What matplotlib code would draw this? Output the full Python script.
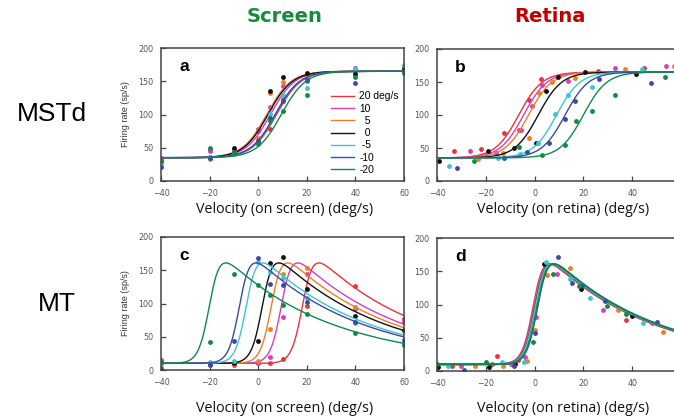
import numpy as np
import matplotlib
matplotlib.use('Agg')
import matplotlib.pyplot as plt

# eye speeds (deg/s) and colours, same order everywhere
speeds = [20, 10, 5, 0, -5, -10, -20]
leg_labels = ['20 deg/s', '10', '  5', '  0', ' -5', '-10', '-20']
colors = ['#e8333f', '#d43fbe', '#f07d26', '#111111', '#3ec3d3', '#3a4aa6', '#11894a']

# ---- panel a: MSTd, screen coordinates
a_x = [-40, -20, -10, 0, 5, 10, 20, 40, 60]
a_y = [
    [35, 46, 47, 75, 78, 123, 155, 165, 171],
    [32, 45, 45, 78, 112, 143, 150, 170, 172],
    [33, 33, 46, 65, 133, 149, 158, 168, 173],
    [30, 36, 50, 60, 135, 157, 163, 161, 168],
    [26, 36, 40, 58, 101, 129, 140, 169, 175],
    [21, 35, 44, 58, 94, 121, 152, 147, 165],
    [30, 50, 42, 55, 90, 105, 130, 157, 163],
]
a_centers = [7.5, 5, 3.5, 4, 7, 7, 9.5]

# ---- panel b: MSTd, retinal coordinates
b_x = [
    [-33, -22, -12.5, -6.5, -2.5, 2.5, 26, 45],
    [-26.5, -16, -5.5, -1, 3, 13.5, 33, 54],
    [-23, -13, -2.5, 2, 7, 16.5, 37, 57],
    [-39, -19, -8.5, 0.5, 4.5, 9.5, 20.5, 41.5],
    [-35, -15, -6, 1.5, 8.5, 13.5, 23.5, 44],
    [-32, -12.5, -3, 6, 12.5, 16.5, 26.5, 47.5],
    [-25, -6.5, 3, 12.5, 17, 23.5, 33, 53.5],
]
b_y = [
    [46, 48, 73, 77, 123, 154, 167, 171],
    [45, 42, 77, 113, 145, 151, 171, 174],
    [33, 43, 65, 134, 150, 156, 169, 175],
    [30, 45, 50, 57, 136, 158, 165, 162],
    [23, 35, 41, 57, 101, 131, 142, 170],
    [20, 35, 44, 57, 94, 121, 154, 148],
    [30, 51, 40, 54, 91, 106, 130, 157],
]
b_centers = [-6.5, -4.5, -2.5, 1.5, 9, 12.5, 20]

# ---- panel c: MT, screen coordinates
c_x = [-40, -20, -10, 0, 5, 10, 20, 40, 60]
c_y = [
    [15, 10, 8, 10, 10, 16, 96, 126, 76],
    [10, 9, 9, 10, 20, 80, 145, 91, 72],
    [11, 9, 9, 14, 62, 144, 154, 95, 58],
    [10, 9, 10, 44, 161, 170, 122, 81, 60],
    [11, 12, 13, 163, 147, 138, 108, 70, 41],
    [3, 7, 44, 169, 130, 128, 103, 72, 45],
    [12, 42, 145, 128, 113, 97, 84, 56, 37],
]
c_shifts = [18.5, 9.8, 5.7, 2.0, -4.6, -7.4, -19.8]

# ---- panel d: MT, retinal coordinates
d_x = [
    [-34, -17.5, -15.5, -7, 0.3, 37.5],
    [-30, -9.5, -4, 0.7, 9, 28, 48],
    [-24.5, -13, -3, 0.3, 5, 14.5, 34, 52.5],
    [-39.5, -18.5, -8, 4, 19, 40],
    [-35.5, -13.5, -4.5, 4.5, 14.5, 22.5, 44.5],
    [-29, -8.5, 0.3, 9.5, 15.5, 19.5, 29, 50],
    [-40, -20, -0.5, 7.5, 18, 29.5, 37.5, 58],
]
d_y = [
    [8, 10, 22, 17, 97, 76],
    [8, 11, 21, 81, 146, 92, 72],
    [8, 8, 15, 62, 145, 155, 91, 59],
    [6, 6, 11, 161, 123, 82],
    [8, 13, 13, 164, 138, 110, 72],
    [1, 8, 57, 171, 132, 129, 105, 73],
    [11, 13, 44, 146, 128, 98, 85, 57],
]
d_shifts = [-0.3, 0.0, 0.3, 0.5, 0.6, 1.5, 1.3]

# fitted-curve shapes
mst_base, mst_top, mst_k = 35, 165, 5.0
mt_base, mt_peak, mt_w, mt_decay = 10, 161, 2.2, 44.0

v = np.linspace(-45, 65, 600)


def mst_curve(x0, k=mst_k):
    return mst_base + (mst_top - mst_base) / (1 + np.exp(-(v - x0) / k))


def mt_curve(x0):
    u = np.linspace(-30, 90, 2000)
    ref = 1 / (1 + np.exp(-u / mt_w)) * np.exp(-u / mt_decay)
    r = 1 / (1 + np.exp(-(v - x0) / mt_w)) * np.exp(-(v - x0) / mt_decay)
    return mt_base + (mt_peak - mt_base) * r / ref.max()


fig = plt.figure(figsize=(6.74, 4.18), dpi=100)

W, H = 674, 418


def make_ax(left, top, right, bottom):
    return fig.add_axes([left / W, 1 - bottom / H, (right - left) / W, (bottom - top) / H])


ax_a = make_ax(161, 48, 404, 181)
ax_b = make_ax(437, 49, 681, 181)
ax_c = make_ax(161, 237, 404, 370)
ax_d = make_ax(437, 238, 681, 371)

for ax, letter in zip([ax_a, ax_b, ax_c, ax_d], 'abcd'):
    ax.set_xlim(-40, 60)
    ax.set_ylim(0, 200)
    ax.set_xticks([-40, -20, 0, 20, 40, 60])
    ax.set_yticks([0, 50, 100, 150, 200])
    ax.tick_params(direction='in', length=3.5, width=0.9, colors='#444444',
                   labelsize=5.8, labelcolor='#555555', pad=5.5)
    for s in ax.spines.values():
        s.set_color('#444444')
        s.set_linewidth(1.1)
    ax.text(0.075, 0.86, letter, transform=ax.transAxes, fontsize=12.5,
            fontweight='bold', family='Liberation Sans', va='center', ha='left')

# right-hand panels run past the picture edge
for ax in [ax_b, ax_d]:
    ax.spines['right'].set_visible(False)
    ax.set_xticks([-40, -20, 0, 20, 40])

for i, col in enumerate(colors):
    ax_a.plot(v, mst_curve(a_centers[i]), color=col, lw=1.0, label=leg_labels[i])
    ax_a.plot(a_x, a_y[i], 'o', color=col, ms=3.5, mec='none')

    ax_b.plot(v, mst_curve(b_centers[i], 4.8), color=col, lw=1.0)
    ax_b.plot(b_x[i], b_y[i], 'o', color=col, ms=3.5, mec='none')

    ax_c.plot(v, mt_curve(c_shifts[i]), color=col, lw=1.0)
    ax_c.plot(c_x, c_y[i], 'o', color=col, ms=3.5, mec='none')

    ax_d.plot(v, mt_curve(d_shifts[i]), color=col, lw=1.2)
    ax_d.plot(d_x[i], d_y[i], 'o', color=col, ms=3.5, mec='none')

leg = ax_a.legend(loc='center left', bbox_to_anchor=(0.68, 0.36), frameon=False,
                  handlelength=2.2, handletextpad=0.5, labelspacing=0.22,
                  borderpad=0, prop={'family': 'Liberation Sans', 'size': 7.4})

for ax in [ax_a, ax_c]:
    ax.set_ylabel('Firing rate (sp/s)', fontsize=6.5, family='Liberation Sans',
                  color='#333333', labelpad=6)

xl_font = dict(fontsize=10.3, family='Open Sans', color='#111111')
fig.text(285 / W, 1 - 210 / H, 'Velocity (on screen) (deg/s)', ha='center', va='center', **xl_font)
fig.text(563 / W, 1 - 210 / H, 'Velocity (on retina) (deg/s)', ha='center', va='center', **xl_font)
fig.text(285 / W, 1 - 408 / H, 'Velocity (on screen) (deg/s)', ha='center', va='center', **xl_font)
fig.text(563 / W, 1 - 408 / H, 'Velocity (on retina) (deg/s)', ha='center', va='center', **xl_font)

fig.text(285 / W, 1 - 17 / H, 'Screen', ha='center', va='center', fontsize=14,
         fontweight='bold', color='#178a3c', family='DejaVu Sans')
fig.text(550 / W, 1 - 17 / H, 'Retina', ha='center', va='center', fontsize=14,
         fontweight='bold', color='#c00000', family='DejaVu Sans')

fig.text(52 / W, 1 - 114 / H, 'MSTd', ha='center', va='center', fontsize=19, family='Liberation Sans')
fig.text(57 / W, 1 - 304 / H, 'MT', ha='center', va='center', fontsize=19, family='Liberation Sans')

fig.savefig('out.png', dpi=100)
